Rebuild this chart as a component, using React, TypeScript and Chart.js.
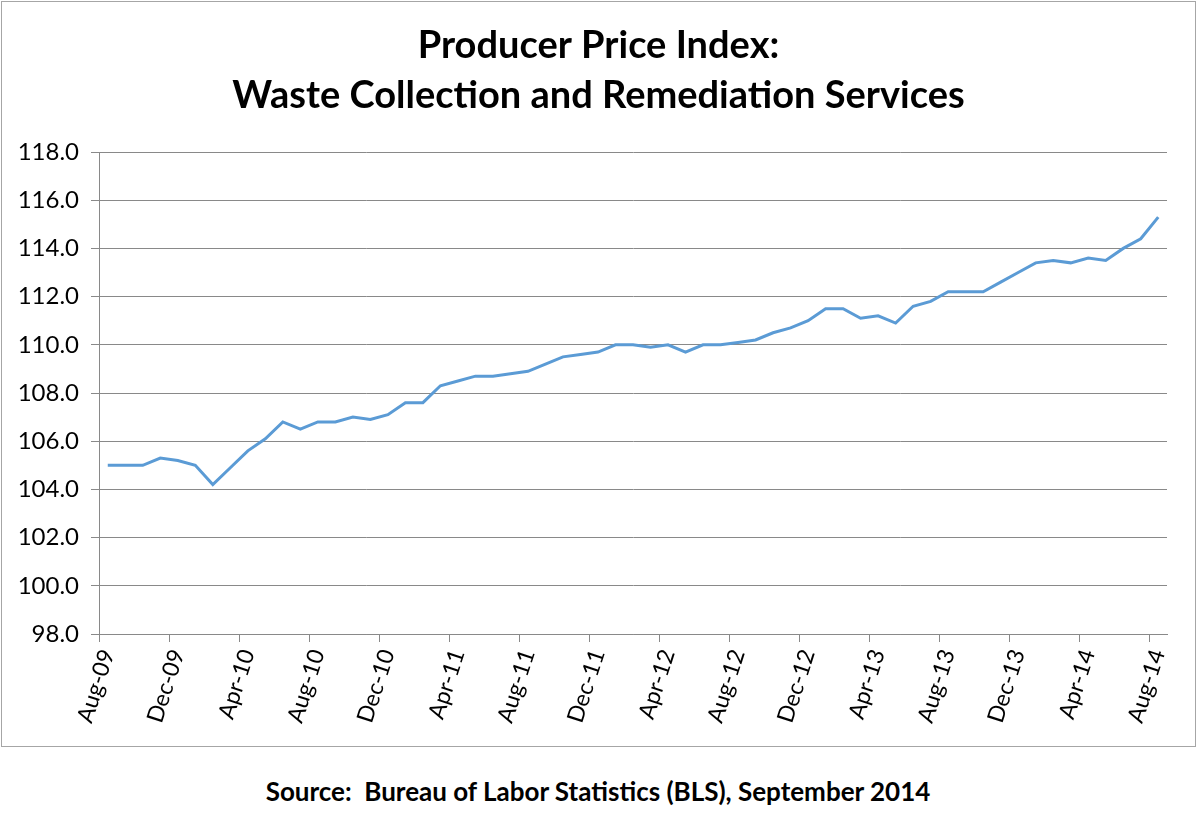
import { useEffect, useRef } from "react";
import { Chart, registerables } from "chart.js";

Chart.register(...registerables);

// monthly categories, Aug-09 .. Aug-14
const MONTHS = [
  "Aug-09", "Sep-09", "Oct-09", "Nov-09", "Dec-09", "Jan-10", "Feb-10", "Mar-10",
  "Apr-10", "May-10", "Jun-10", "Jul-10", "Aug-10", "Sep-10", "Oct-10", "Nov-10",
  "Dec-10", "Jan-11", "Feb-11", "Mar-11", "Apr-11", "May-11", "Jun-11", "Jul-11",
  "Aug-11", "Sep-11", "Oct-11", "Nov-11", "Dec-11", "Jan-12", "Feb-12", "Mar-12",
  "Apr-12", "May-12", "Jun-12", "Jul-12", "Aug-12", "Sep-12", "Oct-12", "Nov-12",
  "Dec-12", "Jan-13", "Feb-13", "Mar-13", "Apr-13", "May-13", "Jun-13", "Jul-13",
  "Aug-13", "Sep-13", "Oct-13", "Nov-13", "Dec-13", "Jan-14", "Feb-14", "Mar-14",
  "Apr-14", "May-14", "Jun-14", "Jul-14", "Aug-14",
];

// PPI values
const PPI = [
  105.0, 105.0, 105.0, 105.3, 105.2, 105.0, 104.2, 104.9,
  105.6, 106.1, 106.8, 106.5, 106.8, 106.8, 107.0, 106.9,
  107.1, 107.6, 107.6, 108.3, 108.5, 108.7, 108.7, 108.8,
  108.9, 109.2, 109.5, 109.6, 109.7, 110.0, 110.0, 109.9,
  110.0, 109.7, 110.0, 110.0, 110.1, 110.2, 110.5, 110.7,
  111.0, 111.5, 111.5, 111.1, 111.2, 110.9, 111.6, 111.8,
  112.2, 112.2, 112.2, 112.6, 113.0, 113.4, 113.5, 113.4,
  113.6, 113.5, 114.0, 114.4, 115.3,
];

const Y_MIN = 98;
const Y_MAX = 118;
const Y_STEP = 2;
const LABEL_EVERY = 4;

const TITLE_LINES = ["Producer Price Index:", "Waste Collection and Remediation Services"];
const SOURCE = "Source:  Bureau of Labor Statistics (BLS), September 2014";

const FONT = "Lato, 'Open Sans', 'Liberation Sans', sans-serif";
const GRID = "#898989";

const PPIChart = () => {
  const canvasRef = useRef<HTMLCanvasElement>(null);

  useEffect(() => {
    if (!canvasRef.current) return;

    const chart = new Chart(canvasRef.current, {
      type: "line",
      data: {
        labels: MONTHS,
        datasets: [
          {
            label: "PPI",
            data: PPI,
            borderColor: "#5B9BD5",
            borderWidth: 3,
            pointRadius: 0,
            tension: 0,
            fill: false,
          },
        ],
      },
      options: {
        animation: false,
        responsive: true,
        maintainAspectRatio: false,
        // no layout padding, so the title is centred on the whole box
        layout: { padding: 0 },
        plugins: {
          legend: { display: false },
          tooltip: { enabled: false },
          title: {
            display: true,
            text: TITLE_LINES,
            color: "#000",
            font: { family: FONT, size: 38, weight: "bold", lineHeight: 50 / 38 },
            padding: { top: 19, bottom: 31 },
          },
        },
        scales: {
          x: {
            type: "category",
            offset: true,
            grid: {
              offset: true,
              drawOnChartArea: false,
              tickLength: 8,
              color: (ctx: any) => (ctx.index % LABEL_EVERY === 0 ? GRID : "rgba(0,0,0,0)"),
            },
            border: { display: true, color: GRID, width: 1 },
            ticks: {
              autoSkip: false,
              minRotation: 72,
              maxRotation: 72,
              padding: 4,
              color: "#000",
              font: { family: FONT, size: 23 },
              callback: (_v: any, i: number) => (i % LABEL_EVERY === 0 ? MONTHS[i] : ""),
            },
            afterFit: (scale: any) => {
              scale.height = 112;
              // gap between plot and right border
              scale.paddingRight = 28;
              scale.paddingLeft = 0;
            },
          },
          y: {
            min: Y_MIN,
            max: Y_MAX,
            grid: { color: GRID, tickLength: 8 },
            border: { display: true, color: GRID, width: 1 },
            ticks: {
              stepSize: Y_STEP,
              padding: 12,
              color: "#000",
              font: { family: FONT, size: 24 },
              callback: (v: any) => Number(v).toFixed(1),
            },
            afterFit: (scale: any) => {
              scale.width = 97;
            },
          },
        },
      },
    });

    return () => {
      chart.destroy();
    };
  }, []);

  return (
    <div style={{ position: "fixed", left: 0, top: 0, width: 1200, height: 831, background: "#fff" }}>
      <div
        style={{
          position: "absolute",
          left: 1,
          top: 1,
          width: 1195,
          height: 746,
          border: "1px solid #a6a6a6",
          boxSizing: "border-box",
        }}
      >
        <canvas ref={canvasRef}></canvas>
      </div>
      <div
        style={{
          position: "absolute",
          left: 0,
          top: 774,
          width: 1196,
          textAlign: "center",
          fontFamily: FONT,
          fontWeight: "bold",
          fontSize: 26,
          lineHeight: "34px",
          color: "#000",
          whiteSpace: "pre",
        }}
      >
        {SOURCE}
      </div>
    </div>
  );
};

export default function App() {
  return <PPIChart />;
}
